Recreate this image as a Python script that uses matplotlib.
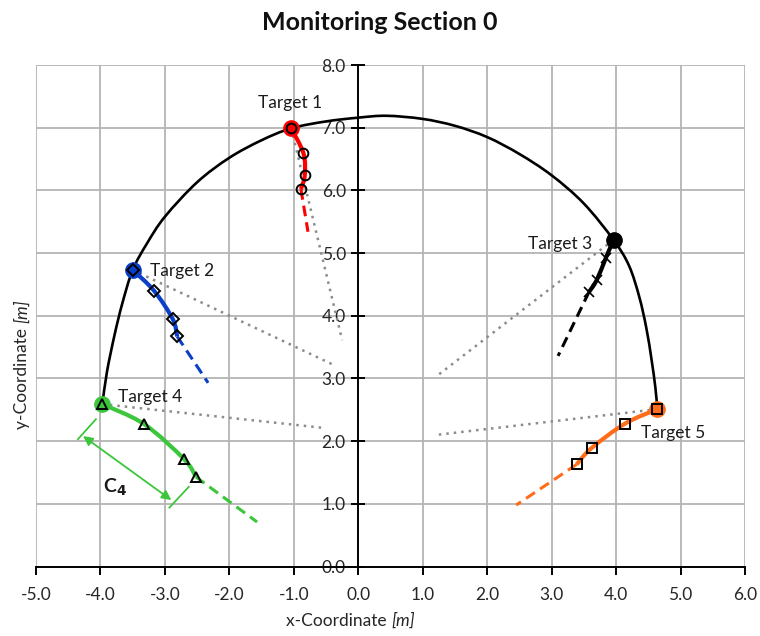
import numpy as np
import matplotlib
matplotlib.use('Agg')
import matplotlib.pyplot as plt
from matplotlib.path import Path
from matplotlib.patches import PathPatch
from matplotlib.ticker import MultipleLocator, FormatStrFormatter

plt.rcParams['font.family'] = ['Lato', 'DejaVu Sans']

# tunnel profile
profile_x = [-3.97, -3.90, -3.78, -3.66, -3.50, -3.28, -3.00, -2.50, -2.00, -1.50,
             -1.04, -0.50, 0.00, 0.44, 1.00, 1.50, 2.00, 2.50, 3.00, 3.50, 3.96,
             4.20, 4.36, 4.47, 4.55, 4.61, 4.64]
profile_y = [2.59, 3.10, 3.70, 4.20, 4.73, 5.15, 5.58, 6.13, 6.52, 6.80,
             6.99, 7.10, 7.16, 7.19, 7.14, 7.03, 6.85, 6.58, 6.24, 5.79, 5.21,
             4.80, 4.30, 3.80, 3.30, 2.85, 2.51]

target_names = ['Target 1', 'Target 2', 'Target 3', 'Target 4', 'Target 5']
target_colors = ['#ff0000', '#0a3fc8', '#000000', '#3cc63c', '#ff6d1a']
target_markers = ['o', 'D', 'x', '^', 's']

# displacement paths (first point = target)
path_x = [[-1.04, -0.85, -0.83, -0.89],
          [-3.50, -3.17, -2.88, -2.81],
          [3.96, 3.84, 3.70, 3.58],
          [-3.97, -3.32, -2.70, -2.52],
          [4.64, 4.14, 3.62, 3.39]]
path_y = [[6.99, 6.59, 6.24, 6.02],
          [4.73, 4.40, 3.95, 3.67],
          [5.21, 4.92, 4.57, 4.38],
          [2.59, 2.27, 1.71, 1.43],
          [2.51, 2.28, 1.89, 1.63]]
# trend (dashed) end points
trend_x = [-0.78, -2.33, 3.10, -1.57, 2.45]
trend_y = [5.34, 2.93, 3.36, 0.71, 0.98]
# vector (dotted) end points
vec_x = [-0.25, -0.35, 1.22, -0.53, 1.22]
vec_y = [3.61, 3.20, 3.04, 2.21, 2.10]

# label anchors
label_x = [-1.06, -3.23, 3.63, -3.73, 4.39]
label_y = [7.39, 4.71, 5.14, 2.70, 2.13]
label_ha = ['center', 'left', 'right', 'left', 'left']

# C4 dimension
c4_start = (-4.27, 2.08)
c4_end = (-2.90, 1.06)
c4_ext1 = ([-4.35, -4.07], [2.03, 2.35])
c4_ext2 = ([-2.93, -2.63], [0.94, 1.27])
c4_text = (-3.78, 1.27)


def smooth(xs, ys):
    pts = np.column_stack([xs, ys])
    verts = [pts[0]]
    codes = [Path.MOVETO]
    n = len(pts)
    for i in range(n - 1):
        p0 = pts[i - 1] if i > 0 else pts[i]
        p1, p2 = pts[i], pts[i + 1]
        p3 = pts[i + 2] if i + 2 < n else pts[i + 1]
        verts += [p1 + (p2 - p0) / 6, p2 - (p3 - p1) / 6, p2]
        codes += [Path.CURVE4] * 3
    return Path(verts, codes)


fig = plt.figure(figsize=(7.6, 6.36), dpi=100)
ax = fig.add_axes([36 / 760, 1 - 566.5 / 636, (745 - 36) / 760, (566.5 - 65) / 636])
ax.set_xlim(-5, 6)
ax.set_ylim(0, 8)
ax.xaxis.set_major_locator(MultipleLocator(1))
ax.yaxis.set_major_locator(MultipleLocator(1))
ax.xaxis.set_major_formatter(FormatStrFormatter('%.1f'))
ax.yaxis.set_major_formatter(FormatStrFormatter('%.1f'))
ax.grid(True, color='#b4b4b4', lw=1.3)
ax.set_axisbelow(True)
for s in ['top', 'right']:
    ax.spines[s].set_visible(False)
ax.spines['left'].set_position(('data', 0))
ax.spines['bottom'].set_position(('data', 0))
ax.spines['left'].set_linewidth(1.4)
ax.spines['bottom'].set_linewidth(1.4)
ax.tick_params(axis='x', direction='out', length=6, width=1.4, pad=9,
               labelsize=12.5, labelcolor='#262626')
ax.tick_params(axis='y', direction='inout', length=10, width=1.4, pad=4,
               labelsize=12.5, labelcolor='#262626')

# profile
ax.add_patch(PathPatch(smooth(profile_x, profile_y), fill=False, lw=1.9,
                       edgecolor='k', zorder=3, capstyle='round'))

for i in range(5):
    tx, ty = path_x[i][0], path_y[i][0]
    ax.plot([tx, vec_x[i]], [ty, vec_y[i]], ls=(0, (1, 2)), color='#8c8c8c',
            lw=1.8, zorder=2)
    ax.plot([path_x[i][-1], trend_x[i]], [path_y[i][-1], trend_y[i]],
            ls=(0, (3.5, 2)), color=target_colors[i], lw=2.2, zorder=4)
    ax.add_patch(PathPatch(smooth(path_x[i], path_y[i]), fill=False, lw=3.0,
                           edgecolor=target_colors[i], zorder=5))
    ax.plot([tx], [ty], 'o', ms=11, color=target_colors[i], mec=target_colors[i],
            zorder=6)
    if target_markers[i] == 'x':
        ax.plot(path_x[i], path_y[i], 'x', ms=7, mew=1.2, color='k', zorder=7)
    else:
        ms = 6 if target_markers[i] == 'D' else 7
        ax.plot(path_x[i], path_y[i], target_markers[i], ms=ms, mfc='none',
                mec='k', mew=1.4, zorder=7)
    ax.text(label_x[i], label_y[i], target_names[i], ha=label_ha[i], va='center',
            fontsize=12.5, color='#1a1a1a', zorder=8)

# C4 dimension
ax.annotate('', xy=c4_end, xytext=c4_start,
            arrowprops=dict(arrowstyle='<|-|>', color='#3cc63c', lw=1.3,
                            mutation_scale=14, shrinkA=0, shrinkB=0), zorder=6)
ax.plot(c4_ext1[0], c4_ext1[1], color='#3cc63c', lw=1.3, zorder=6)
ax.plot(c4_ext2[0], c4_ext2[1], color='#3cc63c', lw=1.3, zorder=6)
ax.text(c4_text[0], c4_text[1], r'C$_\mathbf{4}$', fontsize=14, fontweight='bold',
        ha='center', va='center', color='#1a1a1a', zorder=8)

fig.text(0.5, 1 - 22 / 636, 'Monitoring Section 0', ha='center', va='center',
         fontsize=18, fontweight='bold', color='#111111')
fig.text(391 / 760, 1 - 621 / 636, 'x-Coordinate ', ha='right', va='center',
         fontsize=12.5, color='#262626')
fig.text(391 / 760, 1 - 621 / 636, '[m]', ha='left', va='center',
         fontsize=12.5, style='italic', color='#262626')
fig.text(22 / 760, 1 - 323 / 636, 'y-Coordinate ', ha='center', va='top',
         rotation=90, fontsize=12.5, color='#262626')
fig.text(22 / 760, 1 - 323 / 636, '[m]', ha='center', va='bottom',
         rotation=90, fontsize=12.5, style='italic', color='#262626')

fig.savefig('out.png', dpi=100)
